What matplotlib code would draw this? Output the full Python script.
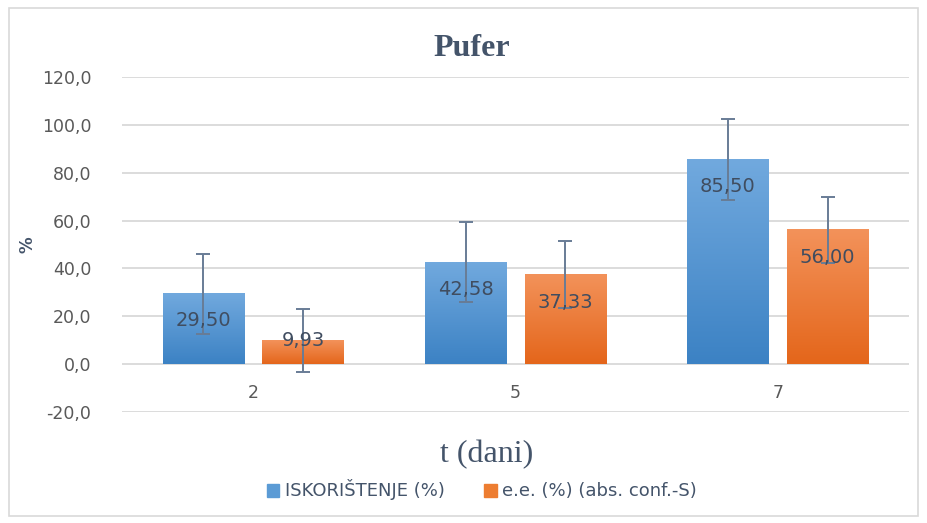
import numpy as np
import matplotlib
matplotlib.use("Agg")
import matplotlib.pyplot as plt
from matplotlib.patches import Rectangle
from matplotlib.colors import LinearSegmentedColormap

# data
days = ["2", "5", "7"]
iskoristenje = [29.50, 42.58, 85.50]
ee = [9.93, 37.33, 56.00]
err_isk = [16.7, 16.8, 16.9]
err_ee = [13.1, 14.0, 13.8]
yticks = [-20, 0, 20, 40, 60, 80, 100, 120]
series_names = ["ISKORIŠTENJE (%)", "e.e. (%) (abs. conf.-S)"]

txt = "#44546A"
tick_col = "#595959"
blue_cm = LinearSegmentedColormap.from_list("b", ["#3C82C4", "#71A9DE"])
orange_cm = LinearSegmentedColormap.from_list("o", ["#E4661B", "#F3925A"])

plt.rcParams["font.family"] = ["DejaVu Sans"]

fig = plt.figure(figsize=(9.27, 5.23), dpi=100)
ax = fig.add_axes([122 / 927, 1 - 412 / 523, (909 - 122) / 927, (412 - 77) / 523])

# outer border
fig.patches.append(Rectangle((9 / 927, 1 - 516 / 523), 909 / 927, 508 / 523,
                             transform=fig.transFigure, fill=False,
                             edgecolor="#D9D9D9", linewidth=1.2))

x = np.arange(len(days))
w = 0.31
gap = 0.07
pos_b = x - (w + gap) / 2
pos_o = x + (w + gap) / 2

grad = np.linspace(0, 1, 100).reshape(-1, 1)


def grad_bars(pos, vals, cmap):
    for p, v in zip(pos, vals):
        ax.imshow(grad, cmap=cmap, origin="lower", aspect="auto",
                  extent=(p - w / 2, p + w / 2, 0, v), zorder=2)


grad_bars(pos_b, iskoristenje, blue_cm)
grad_bars(pos_o, ee, orange_cm)

ax.errorbar(pos_b, iskoristenje, yerr=err_isk, fmt="none", ecolor="#687C96",
            elinewidth=1.4, capsize=5, capthick=1.4, zorder=4)
ax.errorbar(pos_o, ee, yerr=err_ee, fmt="none", ecolor="#687C96",
            elinewidth=1.4, capsize=5, capthick=1.4, zorder=4)

# data labels (inside end)
for pos, vals in ((pos_b, iskoristenje), (pos_o, ee)):
    for p, v in zip(pos, vals):
        ly = v - 11.4 if v - 11.4 > v / 2 else v
        ax.text(p, ly, ("%.2f" % v).replace(".", ","), ha="center", va="center",
                fontsize=14, color="#404D60", zorder=5)

ax.spines["bottom"].set_position(("data", 0))
ax.set_xlim(-0.5, 2.5)
ax.set_ylim(-20, 120)
ax.set_yticks(yticks)
ax.set_yticklabels([("%.1f" % t).replace(".", ",") for t in yticks],
                   fontsize=12.5, color=tick_col)
ax.set_xticks(x)
ax.set_xticklabels(days, fontsize=12.5, color=tick_col)
for s in ax.spines.values():
    s.set_visible(False)
ax.tick_params(axis="both", length=0)
ax.tick_params(axis="x", pad=14)
ax.tick_params(axis="y", pad=22)
ax.grid(axis="y", color="#D9D9D9", linewidth=1.3, zorder=0)
ax.set_axisbelow(True)

ax.set_ylabel("%", fontsize=12, fontweight="bold", color=txt, labelpad=4)
fig.text(472 / 927, 1 - 48 / 523, "Pufer", ha="center", va="center",
         fontsize=23, fontweight="bold", family="Liberation Serif", color=txt)
fig.text(487 / 927, 1 - 455 / 523, "t (dani)", ha="center", va="center",
         fontsize=23, family="Liberation Serif", color=txt)

handles = [Rectangle((0, 0), 1, 1, color="#5B9BD5"), Rectangle((0, 0), 1, 1, color="#ED7D31")]
fig.legend(handles, series_names, loc="center", bbox_to_anchor=(482 / 927, 1 - 490 / 523),
           ncol=2, frameon=False, fontsize=13, labelcolor=txt, handlelength=0.7,
           handleheight=0.7, handletextpad=0.3, columnspacing=2.2)

fig.savefig("out.png", dpi=100)
